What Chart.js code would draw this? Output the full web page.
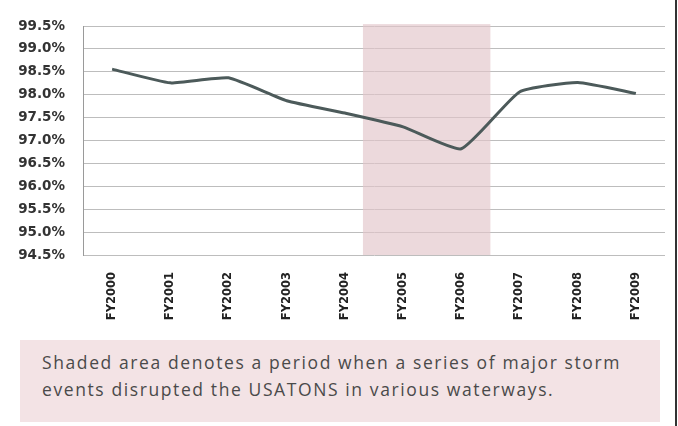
<!DOCTYPE html>
<html>
<head>
<meta charset="utf-8">
<script src="https://cdn.jsdelivr.net/npm/chart.js@4/dist/chart.umd.min.js"></script>
<style>
  html, body { margin: 0; padding: 0; background: #fff; }
  #wrap { position: relative; width: 678px; height: 426px; overflow: hidden; }
  #box { position: absolute; left: 0; top: 0; width: 678px; height: 330px; }
  #edge { position: absolute; left: 675px; top: 0; width: 2px; height: 426px; background: #333; }
  #note {
    position: absolute; left: 20px; top: 340px; width: 640px; height: 82px;
    background: #f3e3e5; box-sizing: border-box; padding: 9px 0 0 22px;
    font-family: "Open Sans", sans-serif; font-size: 17.5px; letter-spacing: 1.6px;
    line-height: 27px; color: #4a4a4a;
  }
</style>
</head>
<body>
<div id="wrap">
  <div id="box"><canvas id="chart" width="678" height="330"></canvas></div>
  <div id="edge"></div>
  <div id="note">Shaded area denotes a period when a series of major storm<br>events disrupted the USATONS in various waterways.</div>
</div>
<script>
const years = ["FY2000", "FY2001", "FY2002", "FY2003", "FY2004", "FY2005", "FY2006", "FY2007", "FY2008", "FY2009"];
const availability = [98.56, 98.26, 98.37, 97.87, 97.6, 97.3, 96.82, 98.06, 98.27, 98.03];
const yTicks = [94.5, 95.0, 95.5, 96.0, 96.5, 97.0, 97.5, 98.0, 98.5, 99.0, 99.5];
// storm period, in category index units
const stormSpan = [4.31, 6.5];

const shadePlugin = {
    id: "shade",
    beforeDatasetsDraw(chart) {
        const x = chart.scales.x;
        const area = chart.chartArea;
        const ctx = chart.ctx;
        const left = x.getPixelForValue(stormSpan[0]);
        const right = x.getPixelForValue(stormSpan[1]);
        ctx.save();
        ctx.fillStyle = "rgba(226, 196, 201, 0.65)";
        ctx.fillRect(left, area.top - 2, right - left, area.bottom - area.top + 2);
        ctx.restore();
    }
};

new Chart(document.getElementById("chart"), {
    type: "line",
    data: {
        labels: years,
        datasets: [{
            data: availability,
            borderColor: "#4c5a5a",
            borderWidth: 3,
            pointRadius: 0,
            tension: 0.15,
            fill: false
        }]
    },
    plugins: [shadePlugin],
    options: {
        responsive: false,
        animation: false,
        devicePixelRatio: 1,
        layout: { padding: { top: 11, right: 13, left: 0, bottom: 0 } },
        plugins: { legend: { display: false }, tooltip: { enabled: false } },
        scales: {
            x: {
                offset: true,
                grid: { display: false },
                border: { display: false },
                afterFit(s) { s.height = 75; },
                ticks: {
                    minRotation: 90, maxRotation: 90, padding: 9, autoSkip: false,
                    color: "#222",
                    font: { family: "DejaVu Sans", size: 11.5, weight: "bold" }
                }
            },
            y: {
                min: 94.5, max: 99.5,
                afterFit(s) { s.width = 83; },
                afterBuildTicks(s) { s.ticks = yTicks.map(v => ({ value: v })); },
                grid: { color: "#bdbdbd", lineWidth: 1, drawTicks: false },
                border: { color: "#9a9a9a" },
                ticks: {
                    padding: 18, autoSkip: false,
                    color: "#333",
                    font: { family: "DejaVu Sans", size: 13.5, weight: "bold" },
                    callback: v => v.toFixed(1) + "%"
                }
            }
        }
    }
});
</script>
</body>
</html>
